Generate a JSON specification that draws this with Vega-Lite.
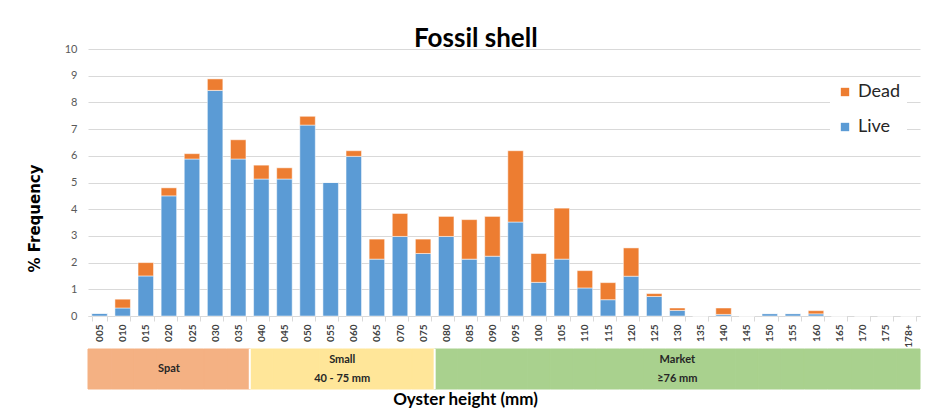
{
  "$schema": "https://vega.github.io/schema/vega-lite/v6.json",
  "background": "white",
  "padding": {"left": 27, "top": 26, "right": 5, "bottom": 2},
  "config": {"font": "Lato", "view": {"stroke": null}, "concat": {"spacing": 0}},
  "title": {"text": "Fossil shell", "fontSize": 26, "fontWeight": "bold", "color": "#000000", "anchor": "middle", "offset": -9, "dx": 2},
  "resolve": {"scale": {"color": "independent"}, "legend": {"color": "independent"}},
  "datasets": {
    "bins": [
      {"size": "005", "class": "Spat", "Live": 0.1, "Dead": 0},
      {"size": "010", "class": "Spat", "Live": 0.3, "Dead": 0.33},
      {"size": "015", "class": "Spat", "Live": 1.5, "Dead": 0.5},
      {"size": "020", "class": "Spat", "Live": 4.5, "Dead": 0.3},
      {"size": "025", "class": "Spat", "Live": 5.88, "Dead": 0.2},
      {"size": "030", "class": "Spat", "Live": 8.45, "Dead": 0.43},
      {"size": "035", "class": "Spat", "Live": 5.88, "Dead": 0.72},
      {"size": "040", "class": "Small", "Live": 5.13, "Dead": 0.52},
      {"size": "045", "class": "Small", "Live": 5.13, "Dead": 0.42},
      {"size": "050", "class": "Small", "Live": 7.15, "Dead": 0.33},
      {"size": "055", "class": "Small", "Live": 5.0, "Dead": 0},
      {"size": "060", "class": "Small", "Live": 5.98, "Dead": 0.21},
      {"size": "065", "class": "Small", "Live": 2.13, "Dead": 0.75},
      {"size": "070", "class": "Small", "Live": 2.98, "Dead": 0.86},
      {"size": "075", "class": "Small", "Live": 2.34, "Dead": 0.54},
      {"size": "080", "class": "Market", "Live": 2.98, "Dead": 0.75},
      {"size": "085", "class": "Market", "Live": 2.13, "Dead": 1.48},
      {"size": "090", "class": "Market", "Live": 2.24, "Dead": 1.49},
      {"size": "095", "class": "Market", "Live": 3.52, "Dead": 2.67},
      {"size": "100", "class": "Market", "Live": 1.26, "Dead": 1.08},
      {"size": "105", "class": "Market", "Live": 2.13, "Dead": 1.91},
      {"size": "110", "class": "Market", "Live": 1.05, "Dead": 0.65},
      {"size": "115", "class": "Market", "Live": 0.61, "Dead": 0.64},
      {"size": "120", "class": "Market", "Live": 1.49, "Dead": 1.06},
      {"size": "125", "class": "Market", "Live": 0.73, "Dead": 0.11},
      {"size": "130", "class": "Market", "Live": 0.21, "Dead": 0.09},
      {"size": "135", "class": "Market", "Live": 0, "Dead": 0},
      {"size": "140", "class": "Market", "Live": 0.06, "Dead": 0.24},
      {"size": "145", "class": "Market", "Live": 0, "Dead": 0},
      {"size": "150", "class": "Market", "Live": 0.09, "Dead": 0},
      {"size": "155", "class": "Market", "Live": 0.09, "Dead": 0},
      {"size": "160", "class": "Market", "Live": 0.08, "Dead": 0.12},
      {"size": "165", "class": "Market", "Live": 0, "Dead": 0},
      {"size": "170", "class": "Market", "Live": 0, "Dead": 0},
      {"size": "175", "class": "Market", "Live": 0, "Dead": 0},
      {"size": "178+", "class": "Market", "Live": 0, "Dead": 0}
    ]
  },
  "vconcat": [
    {
      "width": 832,
      "height": 267,
      "data": {"name": "bins"},
      "transform": [{"fold": ["Live", "Dead"], "as": ["series", "value"]}],
      "mark": {"type": "bar", "stroke": "white", "strokeWidth": 0.5},
      "encoding": {
        "x": {
          "field": "size", "type": "ordinal",
          "scale": {"paddingInner": 0.33, "paddingOuter": 0.165},
          "axis": {"title": null, "labelAngle": -90, "labelFontSize": 10, "labelFontWeight": "bold", "labelColor": "#404040", "tickBand": "extent", "tickColor": "#D9D9D9", "domainColor": "#D9D9D9", "tickSize": 5, "labelPadding": 3}
        },
        "y": {
          "field": "value", "type": "quantitative", "stack": "zero",
          "scale": {"domain": [0, 10]},
          "axis": {"title": "% Frequency", "titleFont": "DejaVu Sans", "titleFontSize": 15, "titleFontWeight": "bold", "titleColor": "#000000", "titlePadding": 22, "titleY": 169, "values": [0, 1, 2, 3, 4, 5, 6, 7, 8, 9, 10], "labelFontSize": 11, "labelColor": "#595959", "labelPadding": 11, "ticks": false, "domain": false, "gridColor": "#D9D9D9"}
        },
        "color": {
          "field": "series", "type": "nominal",
          "scale": {"domain": ["Dead", "Live"], "range": ["#ED7D31", "#5B9BD5"]},
          "legend": {"title": null, "orient": "none", "legendX": 742, "legendY": 28, "fillColor": "white", "symbolType": "square", "symbolSize": 70, "labelFontSize": 18, "labelColor": "#262626", "rowPadding": 17, "padding": 6, "symbolStrokeWidth": 0}
        },
        "order": {"field": "series", "sort": "descending"}
      }
    },
    {
      "width": 832,
      "height": 40,
      "layer": [
        {
          "data": {"name": "bins"},
          "mark": {"type": "rect", "strokeWidth": 1},
          "encoding": {
            "x": {"field": "size", "type": "ordinal", "title": "Oyster height (mm)", "scale": {"paddingInner": 0, "paddingOuter": 0},
              "axis": {"labels": false, "ticks": false, "domain": false, "titleFontSize": 17, "titleFontWeight": "bold", "titleColor": "#000000", "titlePadding": 2, "titleX": 377}},
            "color": {"field": "class", "type": "nominal", "scale": {"domain": ["Spat", "Small", "Market"], "range": ["#F4B183", "#FFE699", "#A9D18E"]}, "legend": null},
            "stroke": {"field": "class", "type": "nominal", "scale": {"domain": ["Spat", "Small", "Market"], "range": ["#F4B183", "#FFE699", "#A9D18E"]}, "legend": null}
          }
        },
        {
          "data": {"values": [{"b": "040"}, {"b": "080"}]},
          "mark": {"type": "rule", "color": "white", "strokeWidth": 2},
          "encoding": {
            "x": {"field": "b", "type": "ordinal", "bandPosition": 0, "title": "Oyster height (mm)"}
          }
        },
        {
          "data": {"values": [{"t": "Spat", "at": "020"}]},
          "mark": {"type": "text", "fontSize": 11, "fontWeight": "bold", "color": "#262626", "baseline": "middle"},
          "encoding": {
            "x": {"field": "at", "type": "ordinal", "bandPosition": 0.5, "title": "Oyster height (mm)"},
            "y": {"value": 20},
            "text": {"field": "t"}
          }
        },
        {
          "data": {"values": [{"t": "Market\n≥76 mm", "at": "130"}]},
          "mark": {"type": "text", "fontSize": 11, "fontWeight": "bold", "lineBreak": "\n", "lineHeight": 19, "color": "#262626", "baseline": "middle"},
          "encoding": {
            "x": {"field": "at", "type": "ordinal", "bandPosition": 0.5, "title": "Oyster height (mm)"},
            "y": {"value": 11},
            "text": {"field": "t"}
          }
        },
        {
          "data": {"values": [{"t": "Small\n40 - 75 mm", "at": "060"}]},
          "mark": {"type": "text", "fontSize": 11, "fontWeight": "bold", "lineBreak": "\n", "lineHeight": 19, "color": "#262626", "baseline": "middle"},
          "encoding": {
            "x": {"field": "at", "type": "ordinal", "bandPosition": 0, "title": "Oyster height (mm)"},
            "y": {"value": 11},
            "text": {"field": "t"}
          }
        }
      ]
    }
  ]
}
